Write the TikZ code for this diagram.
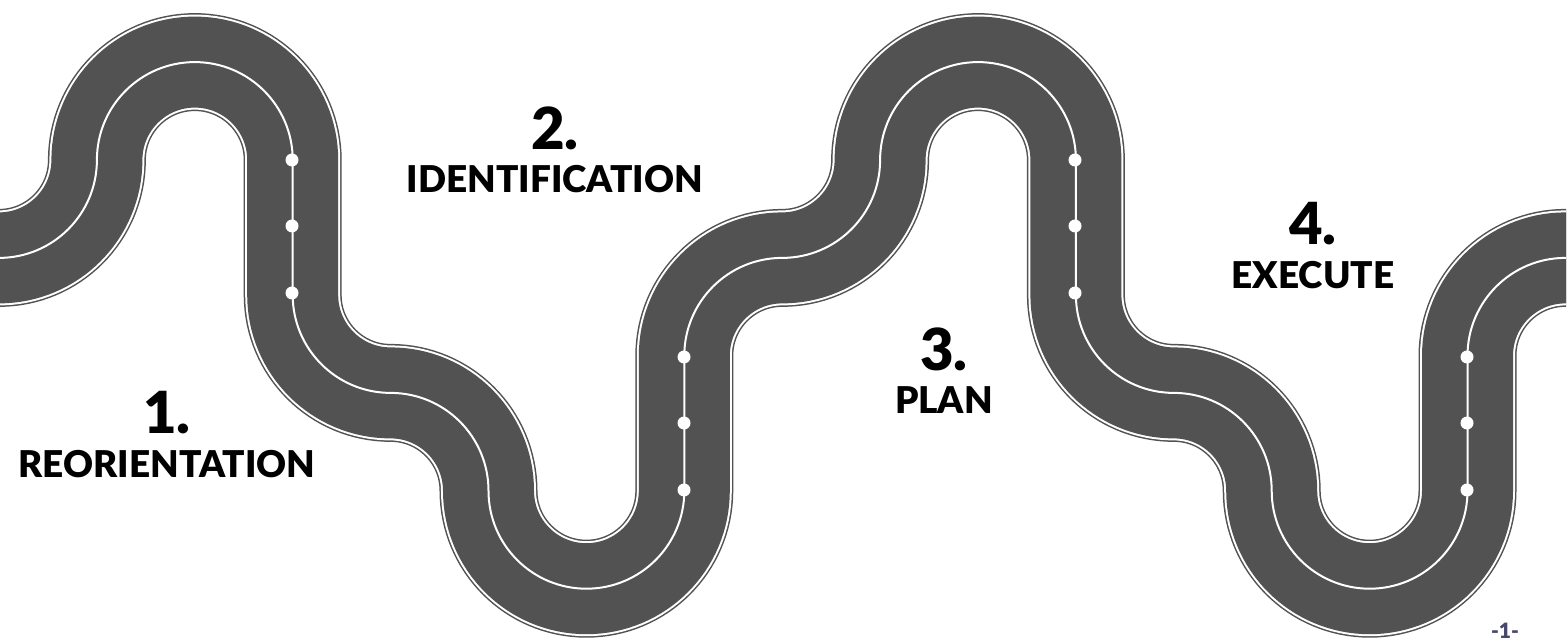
\documentclass[tikz,border=0pt]{standalone}
\usepackage{fontspec}
\setmainfont{Lato}[BoldFont={Lato Black}]
\usepackage{tikz}
\usetikzlibrary{positioning}
\colorlet{Asphalt}{black!68}

\begin{document}
\begin{tikzpicture}[x=0.02cm,y=-0.02cm]
                % Styles for the road layers and the labels
                \tikzset{
                    num/.style={font=\fontsize{33}{33}\selectfont\bfseries, inner sep=0pt},
                    stage/.style={font=\fontsize{21}{22}\selectfont\bfseries, inner sep=0pt},
                    dot/.style={circle, fill=white, inner sep=0pt, minimum size=0.26cm}
                }
                \def\R{97.9}
                \def\Len{135}
                % One period of the winding road, repeated
                \def\road{(-1,160+\R)
                    foreach \p in {1,2,3}{
                      arc[start angle=90,end angle=0,radius=\R]
                      arc[start angle=180,end angle=360,radius=\R]
                      -- ++(0,\Len)
                      arc[start angle=180,end angle=90,radius=\R]
                      arc[start angle=270,end angle=360,radius=\R]
                      arc[start angle=180,end angle=0,radius=\R]
                      -- ++(0,-\Len)
                      arc[start angle=180,end angle=270,radius=\R]
                    }}

                \useasboundingbox (0,0) rectangle (1568,644);
                \begin{scope}
                    \clip (0,0) rectangle (1566,644);
                    \draw[Asphalt, line width=1.96cm] \road;
                    \draw[white, line width=1.9cm] \road;
                    \draw[Asphalt, line width=1.82cm] \road;
                    \draw[white, line width=0.04cm] \road;
                \end{scope}

                % Dots on the straight parts
                \foreach \x/\y/\n in {292/160/a, 684/357/b, 1075/160/c, 1467/357/d}{
                    \node[dot] (\n1) at (\x,\y) {};
                    \node[dot] (\n2) at (\x,\y+66) {};
                    \node[dot] (\n3) at (\x,\y+133) {};
                }

                % Labels of the four steps
                \node[num] (n1) at (167,413) {1.};
                \node[stage, below=0.3cm of n1] (s1) {REORIENTATION};
                \node[num] (n2) at (555,128) {2.};
                \node[stage, below=0.3cm of n2] (s2) {IDENTIFICATION};
                \node[num] (n3) at (944,349) {3.};
                \node[stage, below=0.3cm of n3] (s3) {PLAN};
                \node[num] (n4) at (1313,224) {4.};
                \node[stage, below=0.3cm of n4] (s4) {EXECUTE};

                \node[font=\large\bfseries, text=gray!80!blue!70!black, inner sep=0pt] (pg) at (1505,631) {-1-};
            \end{tikzpicture}
\end{document}
